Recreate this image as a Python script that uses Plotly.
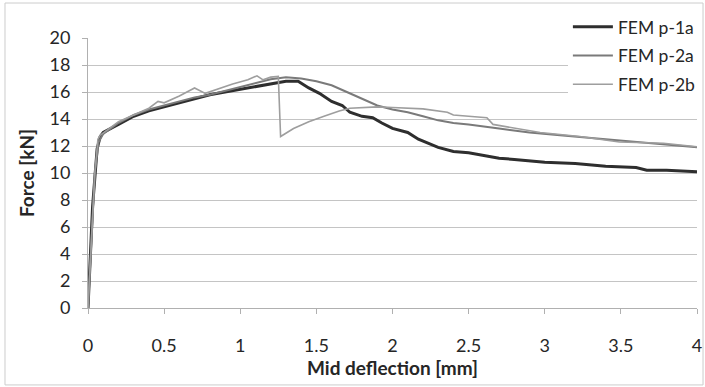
import plotly.graph_objects as go

# Load–deflection curves (mid deflection in mm, force in kN)
x_p1a = [0, 0.01, 0.02, 0.03, 0.045, 0.06, 0.08, 0.1, 0.2, 0.3, 0.4, 0.5, 0.6, 0.7, 0.8, 0.9,
         1.0, 1.1, 1.2, 1.3, 1.38, 1.45, 1.52, 1.6, 1.67, 1.72, 1.8, 1.87, 1.93, 2.0, 2.1,
         2.17, 2.3, 2.4, 2.5, 2.6, 2.7, 2.8, 2.9, 3.0, 3.2, 3.4, 3.6, 3.67, 3.8, 4.0]
f_p1a = [0, 2, 5, 7.5, 10, 11.8, 12.7, 13.0, 13.6, 14.2, 14.6, 14.9, 15.2, 15.5, 15.8, 16.0,
         16.2, 16.4, 16.6, 16.8, 16.8, 16.3, 15.9, 15.3, 15.0, 14.5, 14.2, 14.1, 13.7, 13.3, 13.0,
         12.5, 11.9, 11.6, 11.5, 11.3, 11.1, 11.0, 10.9, 10.8, 10.7, 10.5, 10.4, 10.2, 10.2, 10.1]

x_p2a = [0, 0.02, 0.045, 0.07, 0.1, 0.2, 0.3, 0.4, 0.5, 0.6, 0.7, 0.8, 0.9, 1.0, 1.1, 1.2,
         1.3, 1.4, 1.5, 1.6, 1.7, 1.8, 1.9, 2.0, 2.1, 2.2, 2.3, 2.4, 2.5, 2.7, 2.9, 3.1,
         3.3, 3.5, 3.7, 3.9, 4.0]
f_p2a = [0, 5, 10, 12.3, 12.9, 13.7, 14.3, 14.7, 15.0, 15.3, 15.6, 15.8, 16.1, 16.4, 16.7, 16.95,
         17.1, 17.0, 16.8, 16.5, 16.0, 15.5, 15.0, 14.7, 14.5, 14.2, 13.9, 13.7, 13.6, 13.3, 13.0, 12.8,
         12.6, 12.4, 12.2, 12.0, 11.9]

x_p2b = [0, 0.02, 0.045, 0.065, 0.08, 0.2, 0.3, 0.4, 0.46, 0.5, 0.6, 0.7, 0.77, 0.85, 0.95,
         1.05, 1.11, 1.15, 1.2, 1.25, 1.265, 1.35, 1.45, 1.55, 1.65, 1.72, 1.8, 1.9, 2.0, 2.1,
         2.2, 2.36, 2.4, 2.5, 2.62, 2.66, 2.8, 2.97, 3.1, 3.23, 3.49, 3.78, 4.0]
f_p2b = [0, 5, 10, 12.5, 12.8, 13.8, 14.3, 14.8, 15.3, 15.2, 15.7, 16.3, 15.9, 16.2, 16.6,
         16.9, 17.2, 16.9, 17.1, 17.15, 12.7, 13.3, 13.8, 14.2, 14.6, 14.8, 14.85, 14.9, 14.85, 14.8,
         14.75, 14.5, 14.3, 14.2, 14.1, 13.6, 13.35, 13.0, 12.85, 12.7, 12.3, 12.2, 11.95]

x_ticks = [0, 0.5, 1, 1.5, 2, 2.5, 3, 3.5, 4]
x_tick_text = ["0", "0.5", "1", "1.5", "2", "2.5", "3", "3.5", "4"]
y_ticks = [0, 2, 4, 6, 8, 10, 12, 14, 16, 18, 20]

FONT = "Lato, 'Open Sans', sans-serif"
TEXT = "#262626"

fig = go.Figure()
fig.add_trace(go.Scatter(x=x_p1a, y=f_p1a, mode="lines", name="FEM p-1a",
                         line=dict(color="#2e2e2e", width=3), legendgroup="a"))
fig.add_trace(go.Scatter(x=x_p2a, y=f_p2a, mode="lines", name="FEM p-2a",
                         line=dict(color="#7a7a7a", width=2), legendgroup="b"))
fig.add_trace(go.Scatter(x=x_p2b, y=f_p2b, mode="lines", name="FEM p-2b",
                         line=dict(color="#9e9e9e", width=1.6), legendgroup="c"))

fig.update_layout(
    width=705, height=387,
    margin=dict(l=88, r=8, t=38, b=79, autoexpand=False),
    paper_bgcolor="white", plot_bgcolor="white",
    font=dict(family=FONT, size=18, color=TEXT),
    showlegend=True,
    legend=dict(x=0.788, y=1.108, xanchor="left", yanchor="top",
                bgcolor="white", font=dict(size=17.5, color=TEXT),
                traceorder="grouped", tracegroupgap=3, itemwidth=40),
    xaxis=dict(range=[0, 4], tickvals=x_ticks, ticktext=x_tick_text,
               showgrid=False, zeroline=False, showline=True, automargin=False,
               linecolor="#b0b0b0", linewidth=1, ticks="outside", ticklen=5,
               tickcolor="#b0b0b0", ticklabelstandoff=16,
               title=dict(text="<b>Mid deflection [mm]</b>", font=dict(size=19), standoff=6)),
    yaxis=dict(range=[0, 20], tickvals=y_ticks, automargin=False,
               showgrid=True, gridcolor="#c4c4c4", gridwidth=1, zeroline=False,
               showline=True, linecolor="#b0b0b0", linewidth=1,
               ticks="outside", ticklen=5, tickcolor="#b0b0b0", ticklabelstandoff=8,
               title=dict(text="<b>Force [kN]</b>", font=dict(size=19), standoff=9)),
    shapes=[dict(type="rect", xref="paper", yref="paper",
                 x0=-0.1363, x1=1.0099, y0=-0.285, y1=1.1296,
                 line=dict(color="#cccccc", width=1), layer="below")],
)

fig.write_html("out.html")
